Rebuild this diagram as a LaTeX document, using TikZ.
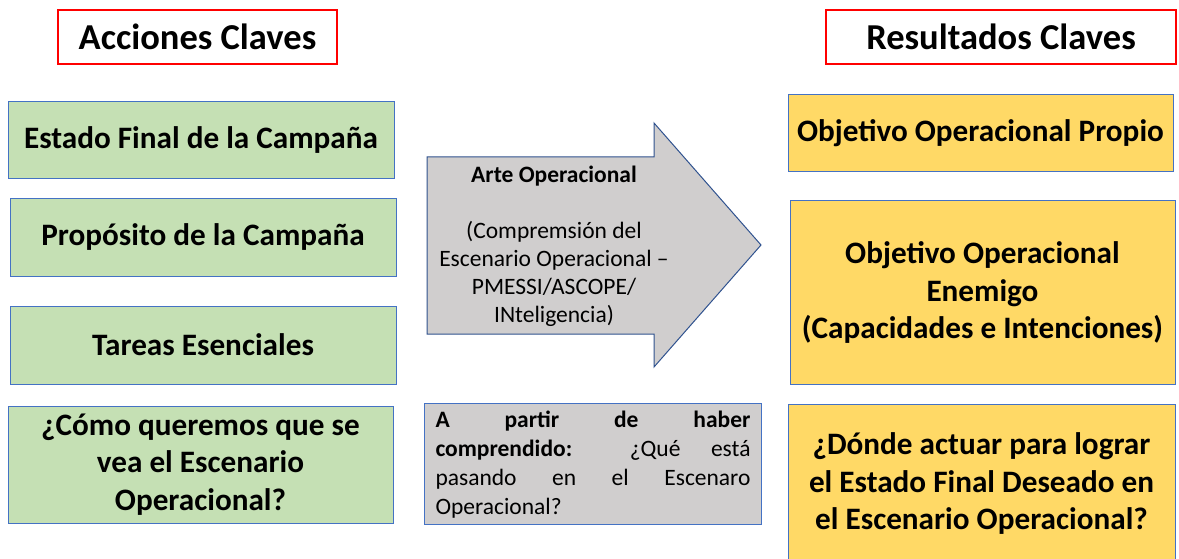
\documentclass[tikz,border=0pt]{standalone}
\usepackage{fontspec}
\setmainfont{Carlito}
\usetikzlibrary{calc}
\definecolor{boxgreen}{HTML}{C5E0B4}
\definecolor{boxgold}{HTML}{FFD966}
\definecolor{boxgray}{HTML}{D0CECE}
\definecolor{edgeblue}{HTML}{4472C4}
\definecolor{arrowblue}{HTML}{2F528F}
\hyphenpenalty=10000
\exhyphenpenalty=10000
\tikzset{
  titlebox/.style={draw=red, line width=2pt, fill=white, inner sep=0pt,
    font=\fontsize{36.5}{42}\selectfont\bfseries},
  keybox/.style={draw=edgeblue, line width=1pt, inner sep=0pt, align=center,
    font=\fontsize{31.2}{37.5}\selectfont\bfseries},
  greenbox/.style={keybox, fill=boxgreen},
  goldbox/.style={keybox, fill=boxgold},
}

\begin{document}
\begin{tikzpicture}[x=1pt, y=-1pt]
\useasboundingbox (0,0) rectangle (1179,559);
\node[titlebox, minimum width=279, minimum height=54] (acciones) at (197.5,37) {Acciones Claves};
\node[titlebox, minimum width=350, minimum height=54] (resultados) at (1001,37) {Resultados Claves};
\node[greenbox, minimum width=386, minimum height=77] (estado) at (201,140.5) {Estado Final de la Campaña};
\node[greenbox, minimum width=386, minimum height=77] (proposito) at (203,237.5) {Propósito de la Campaña};
\node[greenbox, minimum width=386, minimum height=78] (tareas) at (203,345) {Tareas Esenciales};
\node[greenbox, minimum width=385, minimum height=117] (como) at (200.5,464.5) {¿Cómo queremos que se\\vea el Escenario\\Operacional?};
\filldraw[fill=boxgray, draw=arrowblue, line width=1pt] (427,157) -- (654,157) -- (654,123) -- (761,245) -- (654,367) -- (654,334) -- (427,334) -- cycle;
\node[align=center, font=\fontsize{23.5}{28}\selectfont] (arte) at (554,246) {\textbf{Arte Operacional}\\[28pt](Compremsión del\\Escenario Operacional –\\PMESSI/ASCOPE/\\INteligencia)};
\node[draw=edgeblue, fill=boxgray, line width=1pt, minimum width=337, minimum height=121, inner sep=0pt] (partir) at (593,463.5) {};
\node[text width=315, align=justify, inner sep=0pt, font=\fontsize{23.5}{29}\selectfont] (partirtxt) at (593,465) {\textbf{A partir de haber\linebreak comprendido:} ¿Qué está\linebreak pasando en el Escenaro\linebreak Operacional?};
\node[goldbox, minimum width=385, minimum height=77] (propio) at (980.5,133.5) {Objetivo Operacional Propio};
\node[goldbox, minimum width=385, minimum height=183] (enemigo) at (982.5,292.5) {Objetivo Operacional\\Enemigo\\(Capacidades e Intenciones)};
\node[goldbox, minimum width=387, minimum height=160] (donde) at (981.5,484) {¿Dónde actuar para lograr\\el Estado Final Deseado en\\el Escenario Operacional?};
\end{tikzpicture}
\end{document}
